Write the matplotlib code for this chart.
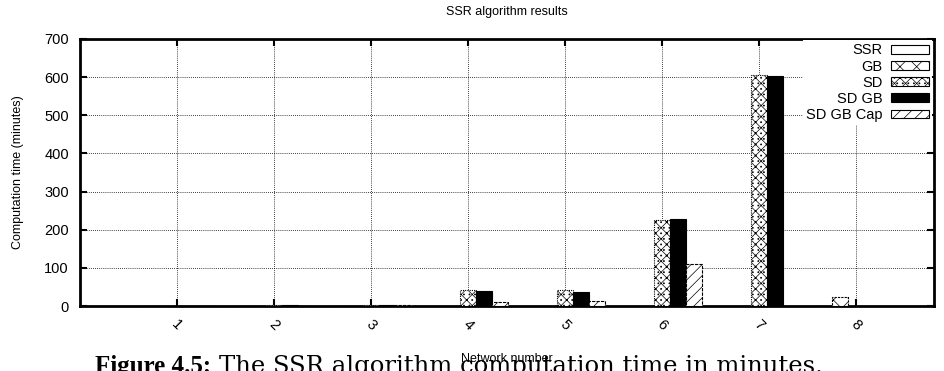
import numpy as np
import matplotlib
matplotlib.use("Agg")
import matplotlib.pyplot as plt
from matplotlib.patches import Patch

networks = [1, 2, 3, 4, 5, 6, 7, 8]
tick_labels = ["1", "2", "3", "4", "5", "6", "7", "8"]
series_names = ["SSR", "GB", "SD", "SD GB", "SD GB Cap"]
ssr = [0.1, 0.2, 0.3, np.nan, np.nan, np.nan, np.nan, 1.0]
gb = [0.1, 0.5, 0.5, np.nan, np.nan, np.nan, np.nan, 25]
sd = [0.1, 2, 2, 43, 43, 226, 605, np.nan]
sd_gb = [0.1, 4, 3, 40, 38, 227, 602, np.nan]
sd_gb_cap = [0.1, 1, 2, 10, 13, 109, np.nan, np.nan]

series = [ssr, gb, sd, sd_gb, sd_gb_cap]
faces = ["white", "white", "white", "black", "white"]
hatches = [None, "xx", "xxx...", None, "///"]
edge_styles = ["solid", (0, (2, 1)), (0, (1, 1)), "solid", (0, (3, 1))]

plt.rcParams['font.family'] = ['Liberation Sans', 'DejaVu Sans']
plt.rcParams['hatch.linewidth'] = 0.5

fig = plt.figure(figsize=(9.45, 3.71), dpi=100)
ax = fig.add_axes([0.0847, 0.175, 0.9033, 0.72])

w = 0.165
x = np.array(networks, dtype=float)
handles = []
for i, (vals, name) in enumerate(zip(series, series_names)):
    offs = (i - 2) * w
    ax.bar(x + offs, vals, width=w, color=faces[i], edgecolor="black",
           hatch=hatches[i], linewidth=0.8, linestyle=edge_styles[i], zorder=3)
    handles.append(Patch(facecolor=faces[i], edgecolor="black", hatch=hatches[i],
                         linewidth=0.8, label=name))

ax.set_xlim(0, 8.8)
ax.set_ylim(0, 700)
ax.set_yticks(np.arange(0, 701, 100))
ax.set_xticks(x)
ax.set_xticklabels(tick_labels, rotation=-45, ha="center", va="top", fontsize=10.5)
ax.tick_params(axis="y", labelsize=10.5, pad=8)
ax.tick_params(direction="in", top=True, right=True, length=5, width=1.5)
ax.tick_params(axis="x", pad=8)
for s in ax.spines.values():
    s.set_linewidth(2)
ax.grid(True, linestyle=(0, (1, 1.5)), color="black", linewidth=0.6, zorder=0)
ax.set_axisbelow(True)

ax.set_title("SSR algorithm results", fontsize=9, pad=17)
ax.set_ylabel("Computation time (minutes)", fontsize=9)
ax.yaxis.set_label_coords(-0.066, 0.5)
ax.set_xlabel("Network number", fontsize=9)
ax.xaxis.set_label_coords(0.5, -0.176)

leg = ax.legend(handles=handles, loc="upper right", markerfirst=False,
                frameon=True, facecolor="white", edgecolor="none", framealpha=1,
                borderaxespad=0.1, handlelength=2.6, handleheight=0.55,
                labelspacing=0.15, fontsize=10.5, borderpad=0.2, handletextpad=0.6)
leg.get_frame().set_boxstyle("square", pad=0)

cap_y = 1 - 373 / 371
fig.text(95 / 945, cap_y, "Figure 4.5:", fontsize=18, family="Liberation Serif",
         fontweight="bold", va="baseline", ha="left")
fig.text(219 / 945, cap_y, "The SSR algorithm computation time in minutes.",
         fontsize=17.5, family="DejaVu Serif", va="baseline", ha="left")

fig.savefig("out.png", dpi=100)
